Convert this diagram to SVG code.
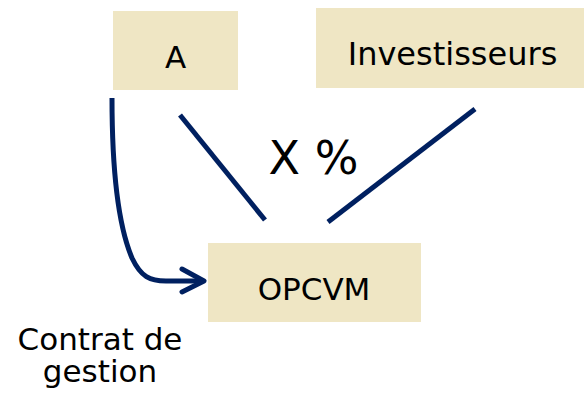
<svg xmlns="http://www.w3.org/2000/svg" width="584" height="393" viewBox="0 0 584 393">
<style>
.box{fill:#EFE6C4}
.t{font-family:"DejaVu Sans",Verdana,sans-serif;fill:#000;text-anchor:middle}
.c{fill:none;stroke:#002060;stroke-width:5}
</style>
<rect width="584" height="393" fill="#fff"/>
<g id="A"><rect class="box" x="113" y="11" width="125" height="79"/><text class="t" x="175.5" y="68" font-size="31">A</text></g>
<g id="Investisseurs"><rect class="box" x="316" y="8" width="268" height="80"/><text class="t" x="452.5" y="65" font-size="32">Investisseurs</text></g>
<g id="OPCVM"><rect class="box" x="208" y="243" width="213" height="79"/><text class="t" x="314" y="300" font-size="31">OPCVM</text></g>
<g id="labels">
<text class="t" x="313.5" y="174" font-size="46">X %</text>
<text class="t" x="100" y="350" font-size="31">Contrat de</text>
<text class="t" x="100" y="382" font-size="31">gestion</text>
</g>
<g id="connectors">
<line class="c" x1="180" y1="115" x2="265" y2="220"/>
<line class="c" x1="328" y1="222" x2="475" y2="109"/>
<path class="c" d="M112,98 C112,170 118,225 132,258 C141,277 150,281 166,281 L203,281"/>
<polyline class="c" points="182,269 204,281 182,292" stroke-linecap="round" stroke-linejoin="round"/>
</g>
</svg>
